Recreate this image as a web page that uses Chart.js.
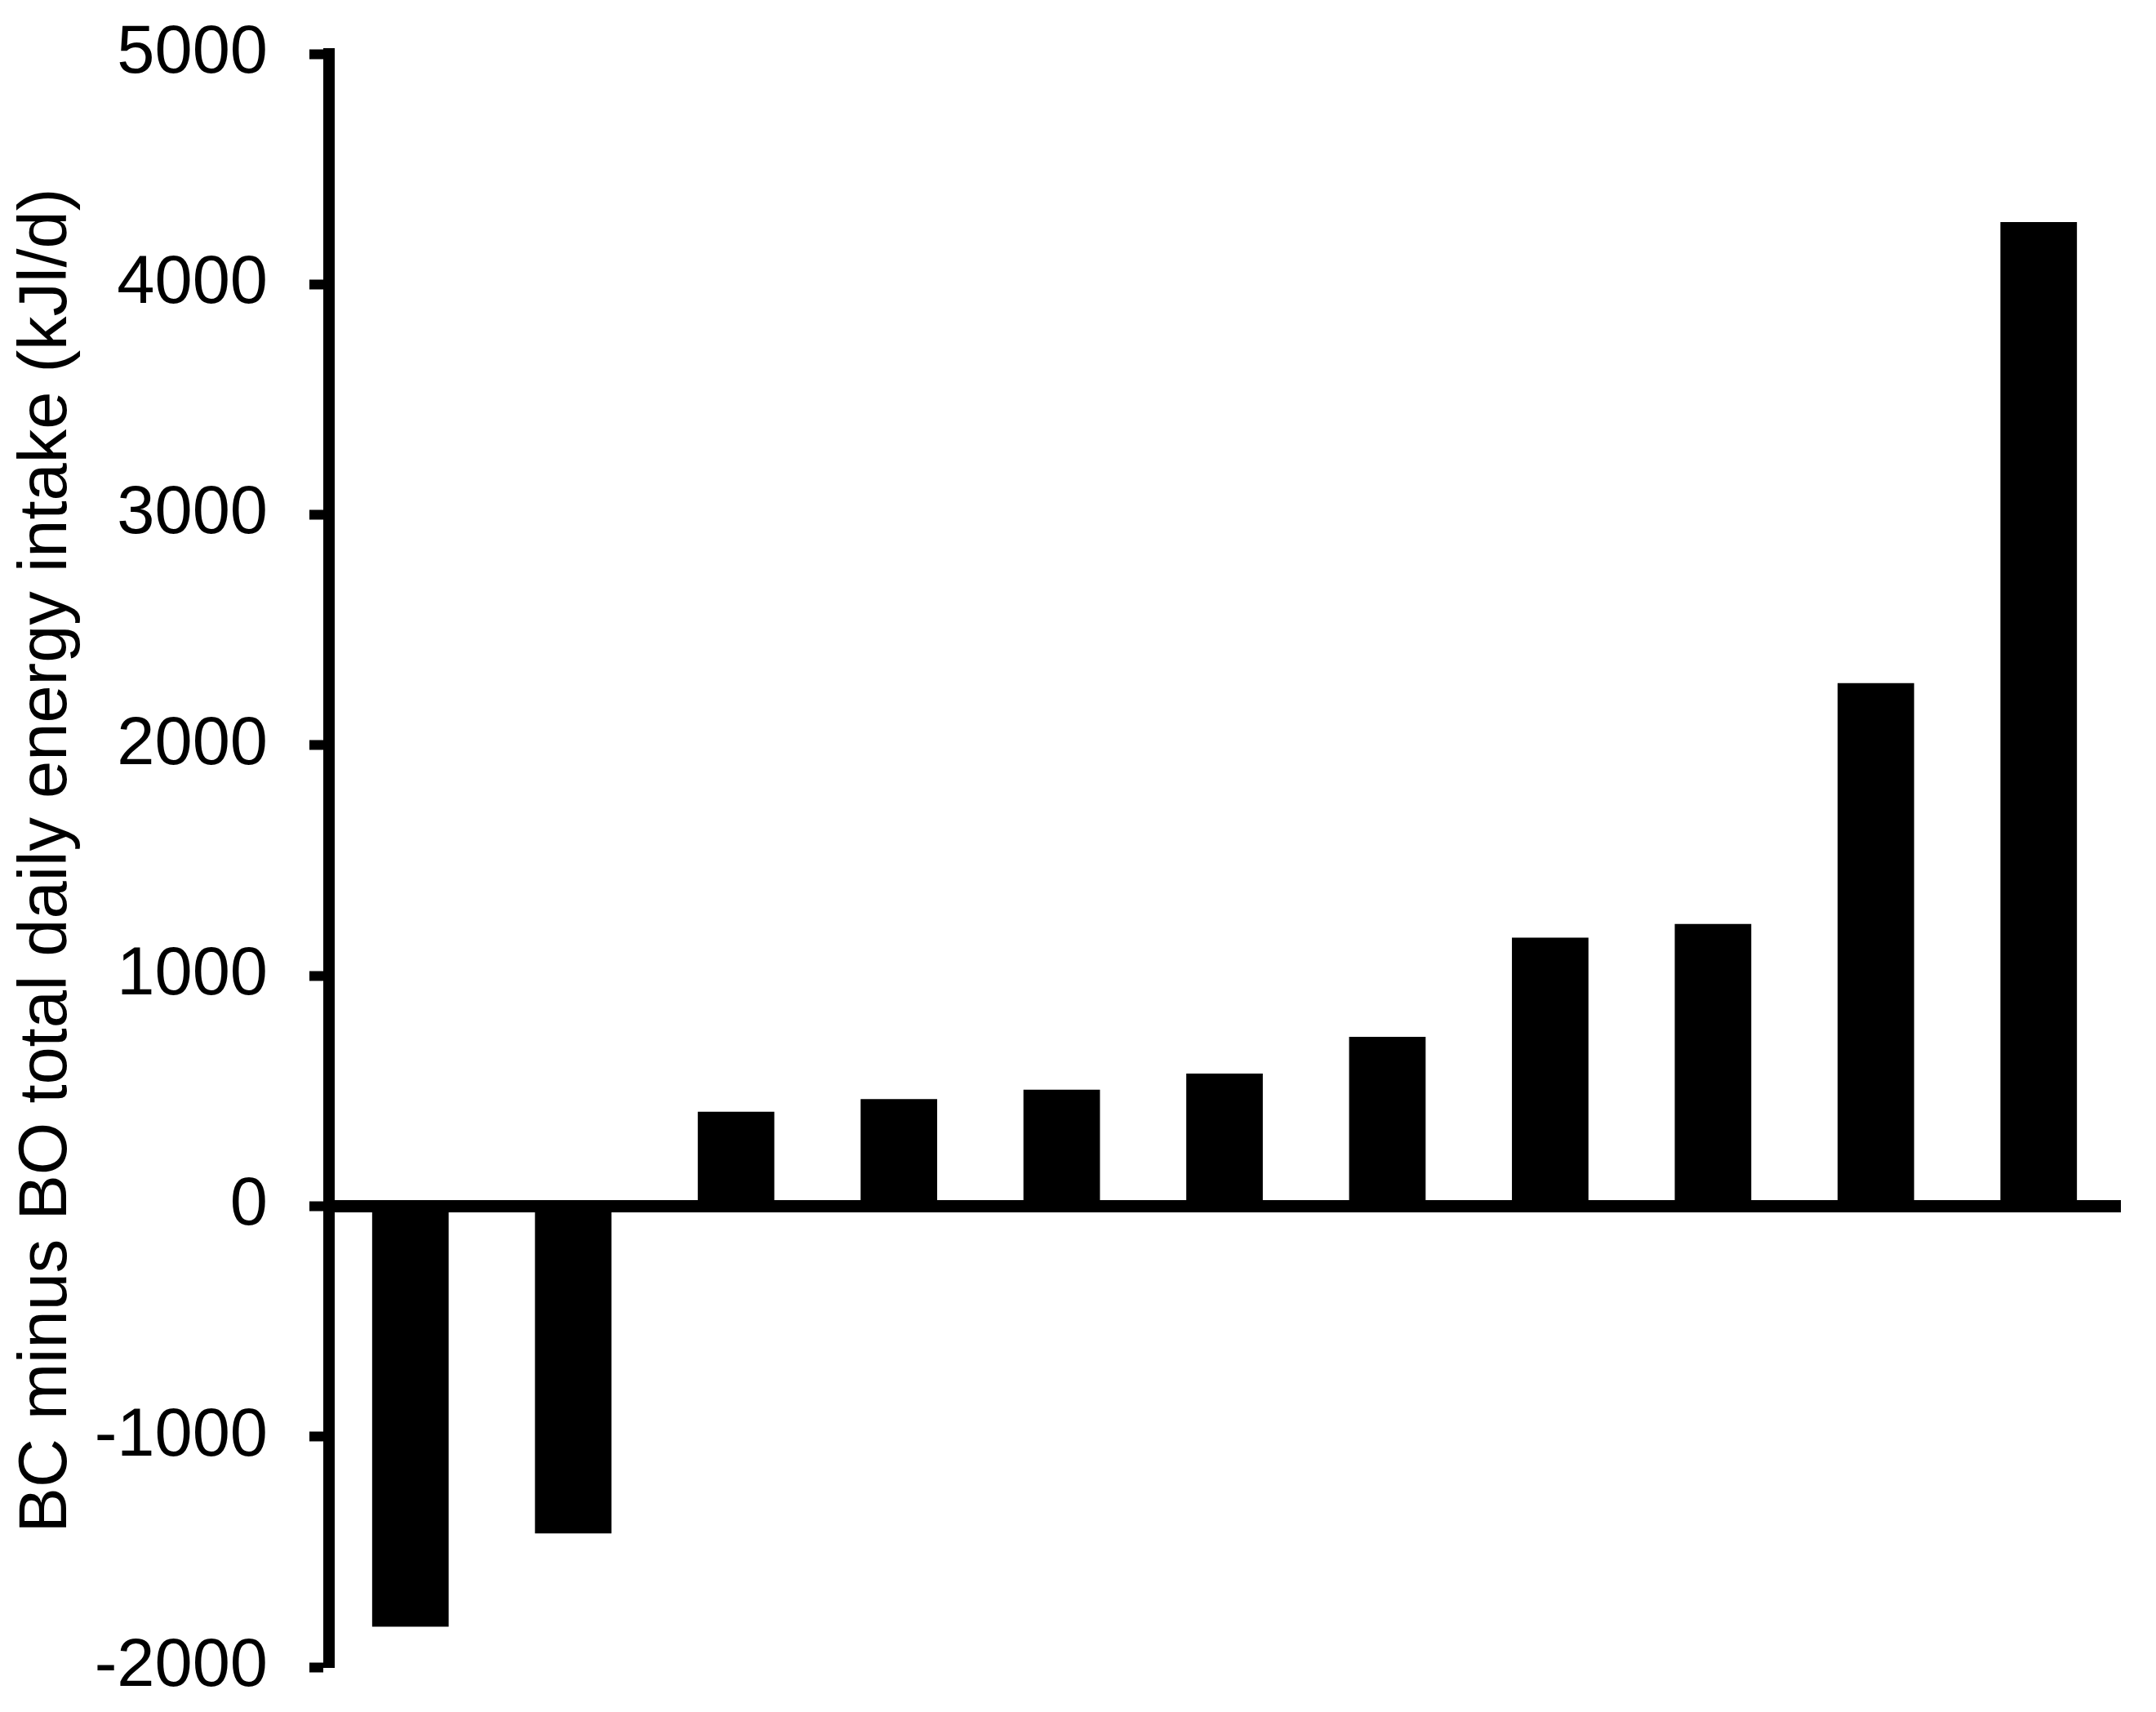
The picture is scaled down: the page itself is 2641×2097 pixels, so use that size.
<html>
  <body style="margin:0;background:#fff">
    <script src="https://cdn.jsdelivr.net/npm/chart.js@4.4.0/dist/chart.umd.min.js"></script>
    <div style="width:2641px;height:2097px">
      <canvas id="myChart" width="2641" height="2097"></canvas>
    </div>
    <script>
      // one bar per subject, sorted ascending
      var subjects = ["1", "2", "3", "4", "5", "6", "7", "8", "9", "10", "11"];
      var intakeDiff = [-1825, -1420, 410, 465, 505, 575, 735, 1165, 1225, 2270, 4270];
      var yTicks = [-2000, -1000, 0, 1000, 2000, 3000, 4000, 5000];
      var yTitle = "BC minus BO total daily energy intake (kJl/d)";

      var family = "'Liberation Sans', Arial, sans-serif";

      var ctx = document.getElementById("myChart").getContext("2d");
      var myChart = new Chart(ctx, {
        type: "bar",
        data: {
          labels: subjects,
          datasets: [
            {
              label: "BC - BO",
              data: intakeDiff,
              backgroundColor: "#000",
              borderWidth: 0,
              barPercentage: 0.47,
              categoryPercentage: 1
            }
          ]
        },
        options: {
          responsive: false,
          animation: false,
          layout: { padding: { top: 66, bottom: 55, right: 44, left: 0 } },
          plugins: { legend: { display: false }, tooltip: { enabled: false } },
          scales: {
            x: {
              position: { y: 0 },
              grid: { display: false },
              ticks: { display: false },
              border: { display: true, color: "#000", width: 15 }
            },
            y: {
              min: yTicks[0],
              max: yTicks[yTicks.length - 1],
              afterBuildTicks: function (scale) {
                scale.ticks = yTicks.map(function (v) { return { value: v }; });
              },
              afterFit: function (scale) {
                scale.width = 403;
              },
              grid: {
                drawOnChartArea: false,
                drawTicks: true,
                tickLength: 24,
                tickWidth: 12,
                color: "#000"
              },
              border: { display: true, color: "#000", width: 14 },
              ticks: {
                color: "#000",
                // tiny lineHeight so the end labels don't push the plot inward
                font: { family: family, size: 83, lineHeight: 0.05 },
                padding: 51,
                callback: function (v) { return String(v); }
              },
              title: {
                display: true,
                text: yTitle,
                color: "#000",
                font: { family: family, size: 83 },
                padding: { top: 8, bottom: 0 }
              }
            }
          }
        }
      });
    </script>
  </body>
</html>
